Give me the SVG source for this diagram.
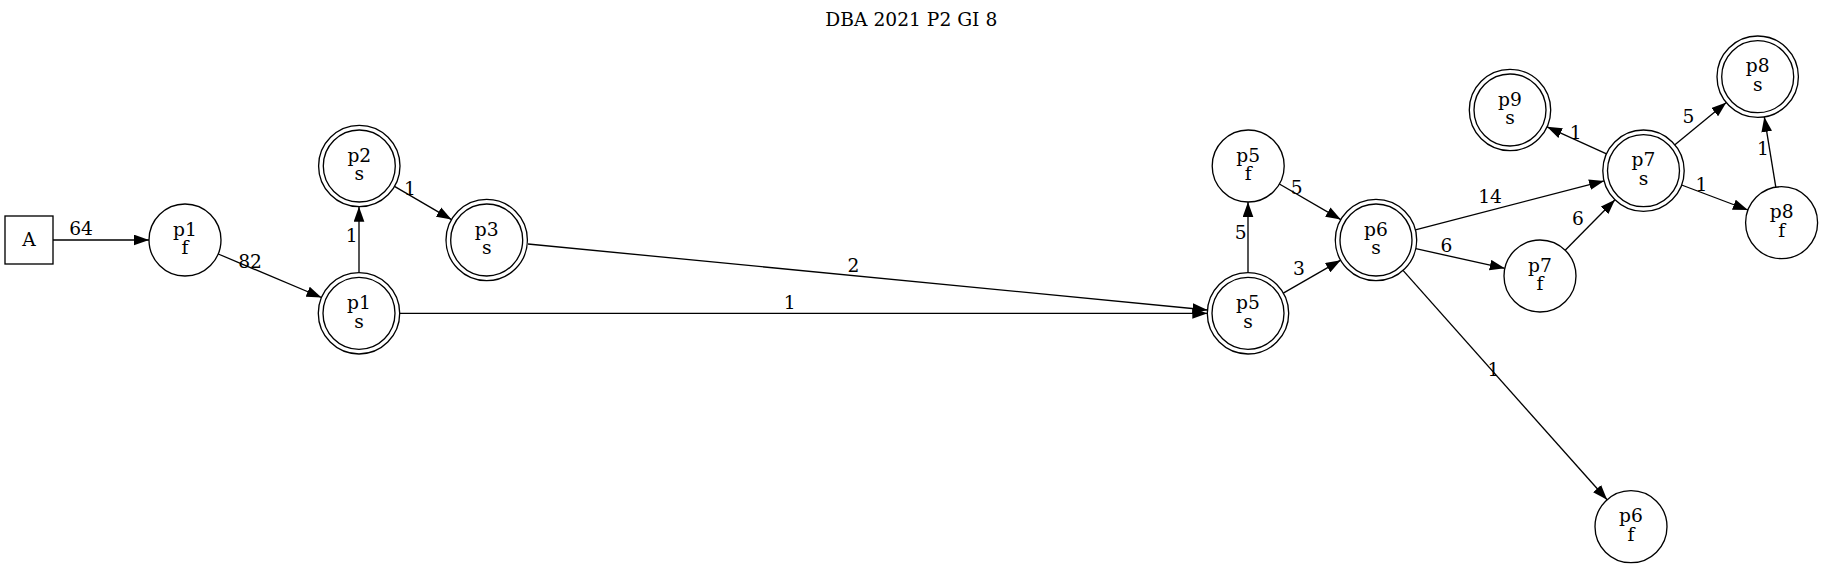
<svg xmlns="http://www.w3.org/2000/svg" width="1823" height="568" viewBox="0 0 1823 568">
<style>
text{font-family:"DejaVu Serif","Liberation Serif",serif;font-size:18.67px;fill:#000;text-anchor:middle}
.n{fill:#fff;stroke:#000;stroke-width:1.33}
.e{fill:none;stroke:#000;stroke-width:1.33;marker-end:url(#ah)}
</style>
<defs>
<marker id="ah" markerUnits="userSpaceOnUse" markerWidth="15" markerHeight="11" viewBox="0 0 14 10" refX="14" refY="5" orient="auto">
<path d="M0,0 L14,5 L0,10 z" fill="#000" stroke="none"/>
</marker>
</defs>
<rect width="1823" height="568" fill="#fff"/>
<text x="911.3" y="26">DBA 2021 P2 GI 8</text>
<g id="edges">
<line class="e" x1="53" y1="240" x2="149" y2="240"/>
<text x="81" y="234.5">64</text>
<line class="e" x1="218.2" y1="254" x2="321.5" y2="297.5"/>
<text x="250" y="268">82</text>
<line class="e" x1="359" y1="272.6" x2="359" y2="206.7"/>
<text x="351.7" y="241.5">1</text>
<line class="e" x1="394.5" y1="186.4" x2="451.5" y2="219.6"/>
<text x="410" y="194.5">1</text>
<line class="e" x1="528" y1="244" x2="1207.5" y2="310"/>
<text x="853.5" y="271.5">2</text>
<line class="e" x1="399.7" y1="313.3" x2="1207.3" y2="313.3"/>
<text x="789.7" y="309">1</text>
<line class="e" x1="1248" y1="272.6" x2="1248" y2="202"/>
<text x="1240.7" y="239">5</text>
<line class="e" x1="1279.4" y1="184" x2="1340.8" y2="219.6"/>
<text x="1296.8" y="194">5</text>
<line class="e" x1="1283.3" y1="293.1" x2="1340.7" y2="260.2"/>
<text x="1298.9" y="275">3</text>
<line class="e" x1="1415.4" y1="229.8" x2="1604.1" y2="180.9"/>
<text x="1490" y="202.5">14</text>
<line class="e" x1="1415.8" y1="248.7" x2="1504.8" y2="268.3"/>
<text x="1446.4" y="251.5">6</text>
<line class="e" x1="1565.2" y1="250.3" x2="1615" y2="199.7"/>
<text x="1578" y="225">6</text>
<line class="e" x1="1681.6" y1="185" x2="1747.9" y2="210"/>
<text x="1701.5" y="190.5">1</text>
<line class="e" x1="1775.8" y1="187.2" x2="1764.3" y2="116.9"/>
<text x="1763" y="155">1</text>
<line class="e" x1="1674.9" y1="144.8" x2="1726.3" y2="102.6"/>
<text x="1688.5" y="123">5</text>
<line class="e" x1="1606.5" y1="153.9" x2="1547" y2="126.8"/>
<text x="1575.6" y="139">1</text>
<line class="e" x1="1403" y1="270.4" x2="1607.1" y2="499.8"/>
<text x="1493.4" y="376">1</text>
</g>
<g id="A"><rect class="n" x="5" y="216" width="48" height="48"/><text x="29" y="246">A</text></g>
<g id="p1f"><circle class="n" cx="185" cy="240" r="36"/><text x="185" y="235.5">p1</text><text x="185" y="254.2">f</text></g>
<g id="p1s"><circle class="n" cx="359" cy="313.3" r="40.7"/><circle class="n" cx="359" cy="313.3" r="36"/><text x="359" y="308.8">p1</text><text x="359" y="327.5">s</text></g>
<g id="p2s"><circle class="n" cx="359.3" cy="166" r="40.7"/><circle class="n" cx="359.3" cy="166" r="36"/><text x="359.3" y="161.5">p2</text><text x="359.3" y="180.2">s</text></g>
<g id="p3s"><circle class="n" cx="486.7" cy="240" r="40.7"/><circle class="n" cx="486.7" cy="240" r="36"/><text x="486.7" y="235.5">p3</text><text x="486.7" y="254.2">s</text></g>
<g id="p5s"><circle class="n" cx="1248" cy="313.3" r="40.7"/><circle class="n" cx="1248" cy="313.3" r="36"/><text x="1248" y="308.8">p5</text><text x="1248" y="327.5">s</text></g>
<g id="p5f"><circle class="n" cx="1248.2" cy="166" r="36"/><text x="1248.2" y="161.5">p5</text><text x="1248.2" y="180.2">f</text></g>
<g id="p6s"><circle class="n" cx="1376" cy="240" r="40.7"/><circle class="n" cx="1376" cy="240" r="36"/><text x="1376" y="235.5">p6</text><text x="1376" y="254.2">s</text></g>
<g id="p7f"><circle class="n" cx="1540" cy="276" r="36"/><text x="1540" y="271.5">p7</text><text x="1540" y="290.2">f</text></g>
<g id="p7s"><circle class="n" cx="1643.5" cy="170.7" r="40.7"/><circle class="n" cx="1643.5" cy="170.7" r="36"/><text x="1643.5" y="166.2">p7</text><text x="1643.5" y="184.9">s</text></g>
<g id="p8f"><circle class="n" cx="1781.6" cy="222.7" r="36"/><text x="1781.6" y="218.2">p8</text><text x="1781.6" y="236.9">f</text></g>
<g id="p8s"><circle class="n" cx="1757.7" cy="76.7" r="40.7"/><circle class="n" cx="1757.7" cy="76.7" r="36"/><text x="1757.7" y="72.2">p8</text><text x="1757.7" y="90.9">s</text></g>
<g id="p9s"><circle class="n" cx="1510" cy="110" r="40.7"/><circle class="n" cx="1510" cy="110" r="36"/><text x="1510" y="105.5">p9</text><text x="1510" y="124.2">s</text></g>
<g id="p6f"><circle class="n" cx="1631" cy="526.7" r="36"/><text x="1631" y="522.2">p6</text><text x="1631" y="540.9">f</text></g>
</svg>
